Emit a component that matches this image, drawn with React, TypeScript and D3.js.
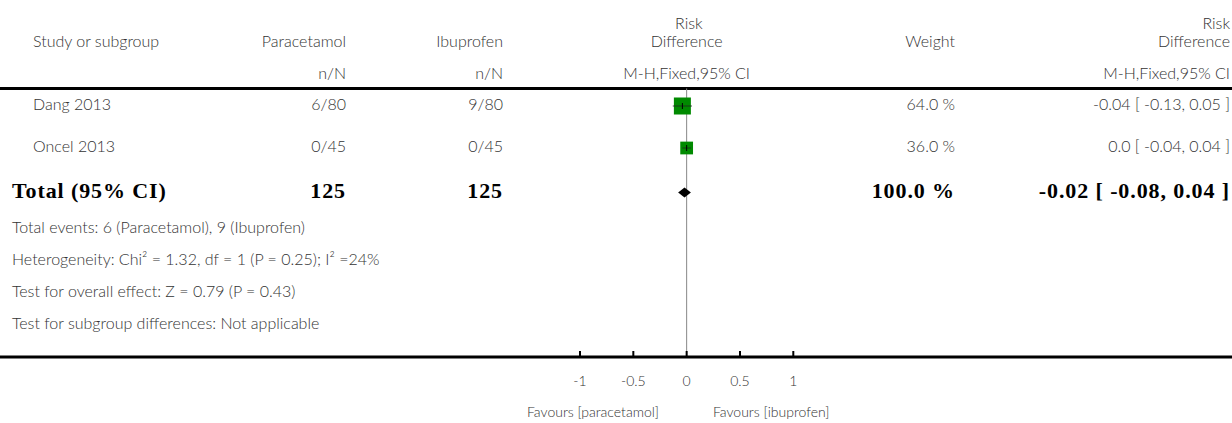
import React from "react";
import * as d3 from "d3";

const studies = ["Dang 2013", "Oncel 2013"];
const paraEvents = [6, 0];
const paraTotals = [80, 45];
const ibuEvents = [9, 0];
const ibuTotals = [80, 45];
const rd = [-0.04, 0.0];
const ciLow = [-0.13, -0.04];
const ciHigh = [0.05, 0.04];
const weights = [64.0, 36.0];
const ciLabels = ["-0.04 [ -0.13, 0.05 ]", "0.0 [ -0.04, 0.04 ]"];

const totalPara = 125;
const totalIbu = 125;
const totalRd = -0.02;
const totalLow = -0.08;
const totalHigh = 0.04;
const totalWeight = 100.0;
const totalLabel = "-0.02 [ -0.08, 0.04 ]";

const tickValues = [-1, -0.5, 0, 0.5, 1];
const tickLabels = ["-1", "-0.5", "0", "0.5", "1"];

const footnotes = [
  "Total events: 6 (Paracetamol), 9 (Ibuprofen)",
  "Heterogeneity: Chi² = 1.32, df = 1 (P = 0.25); I² =24%",
  "Test for overall effect: Z = 0.79 (P = 0.43)",
  "Test for subgroup differences: Not applicable",
];

const W = 1232;
const H = 423;
const SANS = "Lato, 'Open Sans', sans-serif";
const SERIF = "'Liberation Serif', 'DejaVu Serif', serif";
const TXT = "#333";

export default function App() {
  const x = d3.scaleLinear().domain([-1, 1]).range([580, 793.3]);
  const size = d3.scaleSqrt().domain([0, 64]).range([0, 17]);
  const rowY = [106, 148];
  const totalY = 192.5;
  const topRule = 88.5;
  const bottomRule = 357;
  const colPara = 346;
  const colIbu = 503;
  const colWeight = 955;
  const colRight = 1230;
  const colPlot = x(0);
  const fs = 16;
  const small = 14;

  const diamond = [
    [x(totalLow), totalY],
    [x(totalRd), totalY - 5],
    [x(totalHigh), totalY],
    [x(totalRd), totalY + 5],
  ];

  return (
    <svg width={W} height={H} style={{ display: "block", position: "absolute", left: 0, top: 0 }}>
      <rect width={W} height={H} fill="#fff" />
      <g fontFamily={SANS} fontSize={fs} fill={TXT} fontWeight={300}>
        {/* header */}
        <text x={33} y={43} dominantBaseline="middle">Study or subgroup</text>
        <text x={colPara} y={43} textAnchor="end" dominantBaseline="middle">Paracetamol</text>
        <text x={colIbu} y={43} textAnchor="end" dominantBaseline="middle">Ibuprofen</text>
        <text x={colPara} y={75} textAnchor="end" dominantBaseline="middle">n/N</text>
        <text x={colIbu} y={75} textAnchor="end" dominantBaseline="middle">n/N</text>
        <text x={colPlot + 16} y={25} textAnchor="end" dominantBaseline="middle">Risk</text>
        <text x={colPlot} y={43} textAnchor="middle" dominantBaseline="middle">Difference</text>
        <text x={colPlot} y={75} textAnchor="middle" dominantBaseline="middle">M-H,Fixed,95% CI</text>
        <text x={colWeight} y={43} textAnchor="end" dominantBaseline="middle">Weight</text>
        <text x={colRight} y={25} textAnchor="end" dominantBaseline="middle">Risk</text>
        <text x={colRight} y={43} textAnchor="end" dominantBaseline="middle">Difference</text>
        <text x={colRight} y={75} textAnchor="end" dominantBaseline="middle">M-H,Fixed,95% CI</text>

        {/* studies */}
        {studies.map((s, i) => (
          <g key={s}>
            <text x={33} y={rowY[i]} dominantBaseline="middle">{s}</text>
            <text x={colPara} y={rowY[i]} textAnchor="end" dominantBaseline="middle">{`${paraEvents[i]}/${paraTotals[i]}`}</text>
            <text x={colIbu} y={rowY[i]} textAnchor="end" dominantBaseline="middle">{`${ibuEvents[i]}/${ibuTotals[i]}`}</text>
            <text x={colWeight} y={rowY[i]} textAnchor="end" dominantBaseline="middle">{`${weights[i].toFixed(1)} %`}</text>
            <text x={colRight} y={rowY[i]} textAnchor="end" dominantBaseline="middle">{ciLabels[i]}</text>
          </g>
        ))}

        {/* footnotes */}
        {footnotes.map((f, i) => (
          <text key={f} x={12} y={229 + i * 32} dominantBaseline="middle">{f}</text>
        ))}

        {/* axis labels */}
        {tickValues.map((t, i) => (
          <text key={t} x={x(t)} y={383} textAnchor="middle" dominantBaseline="middle" fontSize={small}>{tickLabels[i]}</text>
        ))}
        <text x={659} y={414} textAnchor="end" dominantBaseline="middle" fontSize={small}>Favours [paracetamol]</text>
        <text x={713} y={414} textAnchor="start" dominantBaseline="middle" fontSize={small}>Favours [ibuprofen]</text>
      </g>

      {/* totals (bold serif) */}
      <g fontFamily={SERIF} fontWeight="bold" fontSize={22} fill="#000" letterSpacing={0.9}>
        <text x={12} y={totalY} dominantBaseline="middle">Total (95% CI)</text>
        <text x={colPara} y={totalY} textAnchor="end" dominantBaseline="middle">{totalPara}</text>
        <text x={colIbu} y={totalY} textAnchor="end" dominantBaseline="middle">{totalIbu}</text>
        <text x={colWeight} y={totalY} textAnchor="end" dominantBaseline="middle">{`${totalWeight.toFixed(1)} %`}</text>
        <text x={colRight} y={totalY} textAnchor="end" dominantBaseline="middle">{totalLabel}</text>
      </g>

      {/* rules */}
      <line x1={0} x2={W} y1={topRule} y2={topRule} stroke="#000" strokeWidth={3} />
      <line x1={colPlot} x2={colPlot} y1={topRule} y2={bottomRule} stroke="#888" strokeWidth={1} />
      <line x1={0} x2={W} y1={bottomRule} y2={bottomRule} stroke="#000" strokeWidth={3} />
      {tickValues.map((t) => (
        <line key={t} x1={x(t)} x2={x(t)} y1={351} y2={bottomRule} stroke="#000" strokeWidth={2} />
      ))}

      {/* study marks */}
      {studies.map((s, i) => {
        const sz = size(weights[i]);
        return (
          <g key={s}>
            <rect x={x(rd[i]) - sz / 2} y={rowY[i] - sz / 2} width={sz} height={sz} fill="#008a00" />
            <line x1={x(ciLow[i])} x2={x(ciHigh[i])} y1={rowY[i]} y2={rowY[i]} stroke="#222" strokeWidth={1} opacity={0.8} />
            <line x1={x(rd[i])} x2={x(rd[i])} y1={rowY[i] - 3} y2={rowY[i] + 3} stroke="#000" strokeWidth={1} />
          </g>
        );
      })}
      <polygon points={diamond.map((p) => p.join(",")).join(" ")} fill="#000" />
    </svg>
  );
}
